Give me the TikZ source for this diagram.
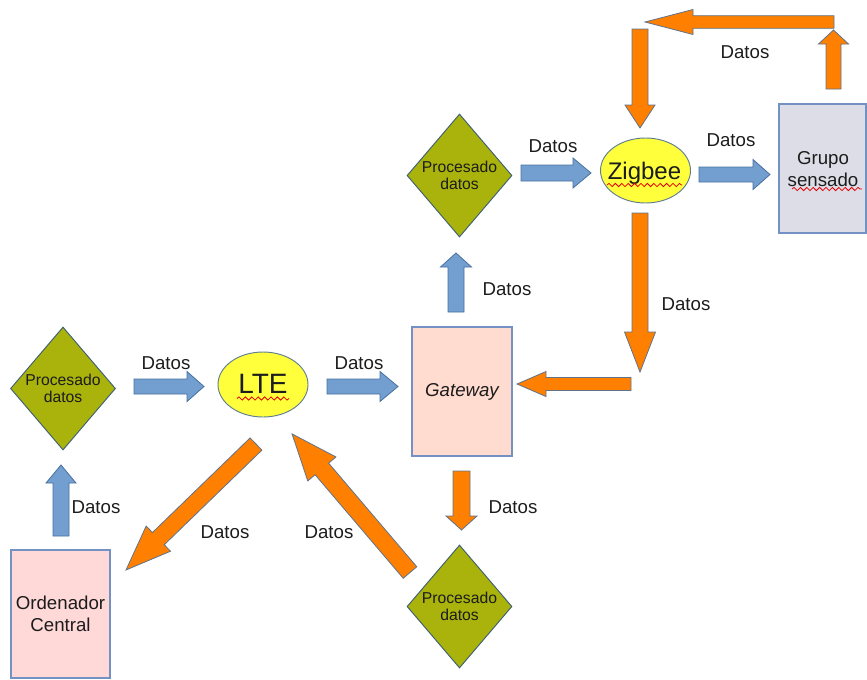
\documentclass[tikz,border=0pt]{standalone}
\usepackage{fontspec}
\setmainfont{Liberation Sans}
\usetikzlibrary{shapes.geometric,decorations.pathmorphing}

\definecolor{bluefill}{RGB}{114,159,207}
\definecolor{blueline}{RGB}{72,112,160}
\definecolor{orangefill}{RGB}{255,128,0}
\definecolor{orangeline}{RGB}{95,115,140}
\definecolor{olivefill}{RGB}{170,178,12}
\definecolor{oliveline}{RGB}{60,95,115}
\definecolor{yellowfill}{RGB}{255,255,60}
\definecolor{ellipseline}{RGB}{95,125,145}
\definecolor{boxline}{RGB}{115,145,195}
\definecolor{gatewayfill}{RGB}{255,219,208}
\definecolor{pcfill}{RGB}{255,216,216}
\definecolor{sensorfill}{RGB}{221,221,232}
\definecolor{ink}{RGB}{28,28,28}

% block arrow: style, tail point, direction angle, length, shaft width, head width, head length
\newcommand\blockarrow[7]{%
  \begin{scope}[shift={#2}, rotate=#3]
    \draw[#1] (0,{-#5/2}) -- ({#4-#7},{-#5/2}) -- ({#4-#7},{-#6/2}) -- (#4,0)
      -- ({#4-#7},{#6/2}) -- ({#4-#7},{#5/2}) -- (0,{#5/2}) -- cycle;
  \end{scope}}

\tikzset{
  bluearrow/.style={fill=bluefill, draw=blueline, line width=0.6pt, line join=miter},
  orangearrow/.style={fill=orangefill, draw=orangeline, line width=0.6pt, line join=miter},
  procbox/.style={diamond, fill=olivefill, draw=oliveline, line width=0.7pt, inner sep=0pt,
    minimum width=105*0.75pt, minimum height=123*0.75pt, aspect=0.85},
  netbox/.style={ellipse, fill=yellowfill, draw=ellipseline, line width=0.7pt, inner sep=0pt,
    minimum width=90*0.75pt, minimum height=65*0.75pt},
  devbox/.style={rectangle, draw=boxline, line width=0.8pt, inner sep=0pt},
  datalabel/.style={font=\fontsize{14}{16}\selectfont, text=ink, inner sep=0pt},
  proclabel/.style={font=\fontsize{11.8}{12.6}\selectfont, text=ink, align=center, inner sep=0pt},
  boxlabel/.style={font=\fontsize{14}{16.5}\selectfont, text=ink, align=center, inner sep=0pt},
  spell/.style={draw=red!90!black, line width=0.6pt, decorate,
    decoration={snake, amplitude=1.2, segment length=4.8}}
}

\begin{document}
\begin{tikzpicture}[x=0.75pt, y=-0.75pt]
\useasboundingbox (0,0) rectangle (867,679);

% ---- shapes ----
\node[procbox] (procTop) at (459.5,175.5) {};
\node[procbox] (procLeft) at (63,388.5) {};
\node[procbox] (procBottom) at (459.5,606.5) {};
\node[netbox] (lte) at (263,384.5) {};
\node[netbox] (zigbee) at (645.5,170.5) {};
\node[devbox, fill=gatewayfill, minimum width=100*0.75pt, minimum height=129*0.75pt] (gateway) at (462,391.5) {};
\node[devbox, fill=pcfill, minimum width=99*0.75pt, minimum height=128*0.75pt] (pc) at (60.5,614) {};
\node[devbox, fill=sensorfill, minimum width=87*0.75pt, minimum height=129*0.75pt] (sensors) at (822.5,168.5) {};

% ---- texts in the shapes ----
\node[proclabel] at (procTop) {Procesado\\datos};
\node[proclabel] at (procLeft) {Procesado\\datos};
\node[proclabel] at (procBottom) {Procesado\\datos};
\node[font=\fontsize{21}{24}\selectfont, text=ink, inner sep=0pt] (lteText) at (263,384) {LTE};
\node[font=\fontsize{18}{21}\selectfont, text=ink, inner sep=0pt] (zigbeeText) at (644.5,173.5) {Zigbee};
\node[boxlabel, font=\fontsize{14}{16.5}\selectfont\itshape] at (gateway) {Gateway};
\node[boxlabel] at (pc) {Ordenador\\Central};
\node[boxlabel] (sensorsText) at (823,169) {Grupo\\sensado};

% spell-check underlines
\draw[spell] (237,398.5) -- (289,398.5);
\draw[spell] (607,185) -- (682,185);
\draw[spell] (792,189) -- (862,189);

% ---- block arrows ----
% sensor loop back into Zigbee
\blockarrow{orangearrow}{(833.5,89)}{90}{59}{15}{30}{14}
\blockarrow{orangearrow}{(834,22)}{180}{189}{12.6}{25}{48}
\blockarrow{orangearrow}{(640,29)}{270}{99}{16}{30}{23}
% Zigbee to sensors
\blockarrow{bluearrow}{(699,174.5)}{0}{71}{15}{30}{17}
% processing to Zigbee
\blockarrow{bluearrow}{(521,173)}{0}{70}{16}{30}{18}
% Zigbee down to gateway
\blockarrow{orangearrow}{(640,213)}{270}{159}{16}{31}{40}
\blockarrow{orangearrow}{(631,384)}{180}{114}{13}{25}{29}
% gateway up to processing
\blockarrow{bluearrow}{(456,312)}{90}{59}{16}{31}{14}
% LTE to gateway
\blockarrow{bluearrow}{(327,386.5)}{0}{71}{15}{30}{18}
% processing to LTE
\blockarrow{bluearrow}{(134,386.5)}{0}{70}{15}{30}{17}
% central computer up to processing
\blockarrow{bluearrow}{(61,536)}{90}{71}{16}{30}{18}
% LTE to central computer
\blockarrow{orangearrow}{(256,444)}{224.1}{181}{17}{35}{45}
% processing back to LTE
\blockarrow{orangearrow}{(410,572.5)}{130.4}{182}{17.8}{37}{46}
% gateway down to processing
\blockarrow{orangearrow}{(461.5,471)}{270}{59}{17}{31}{14}

% ---- arrow labels ----
\node[datalabel] (d1) at (745,52) {Datos};
\node[datalabel] (d2) at (731,140) {Datos};
\node[datalabel] (d3) at (553,146) {Datos};
\node[datalabel] (d4) at (686,304) {Datos};
\node[datalabel] (d5) at (507,289) {Datos};
\node[datalabel] (d6) at (166,363) {Datos};
\node[datalabel] (d7) at (359,363) {Datos};
\node[datalabel] (d8) at (96,507) {Datos};
\node[datalabel] (d9) at (513,507) {Datos};
\node[datalabel] (d10) at (225,532) {Datos};
\node[datalabel] (d11) at (329,532) {Datos};
\end{tikzpicture}
\end{document}
